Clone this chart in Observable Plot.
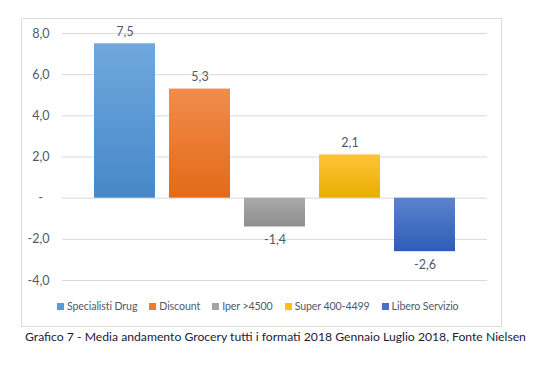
<!DOCTYPE html>
<html>
<head>
<meta charset="utf-8">
<script src="https://cdn.jsdelivr.net/npm/d3@7"></script>
<script src="https://cdn.jsdelivr.net/npm/@observablehq/plot@0.6"></script>
<style>
  body { margin: 0; background: #fff; width: 555px; height: 371px; position: relative; overflow: hidden; font-family: Lato, "Open Sans", sans-serif; }
  #frame { position: absolute; left: 21px; top: 18px; width: 481px; height: 309px; border: 1px solid #dcdcdc; box-sizing: border-box; }
  #chart { position: absolute; left: 0; top: 0; }
  #legend { position: absolute; left: 57px; top: 299px; height: 14px; display: flex; align-items: center; font-size: 10.6px; letter-spacing: -0.1px; color: #505a6a; white-space: nowrap; }
  #legend .item { display: inline-flex; align-items: center; margin-right: 12px; }
  #legend .sw { display: inline-block; width: 7px; height: 7px; margin-right: 3px; }
  #caption { position: absolute; left: 25px; top: 329px; font-size: 12.2px; color: #1b1b3a; white-space: nowrap; }
</style>
</head>
<body>
<div id="frame"></div>
<div id="chart"></div>
<div id="legend"></div>
<div id="caption">Grafico 7 - Media andamento Grocery tutti i formati 2018 Gennaio Luglio 2018, Fonte Nielsen</div>
<script>
const categories = ["Specialisti Drug", "Discount", "Iper >4500", "Super 400-4499", "Libero Servizio"];
const values = [7.5, 5.3, -1.4, 2.1, -2.6];
const valueLabels = ["7,5", "5,3", "-1,4", "2,1", "-2,6"];
const yTicks = [-4, -2, 0, 2, 4, 6, 8];
const yTickLabels = ["-4,0", "-2,0", "-\u00a0\u00a0", "2,0", "4,0", "6,0", "8,0"];
const swatchColors = ["#5b9bd5", "#ed7d31", "#a5a5a5", "#ffc000", "#4472c4"];
const gradTop = ["#70a8dd", "#f18c4c", "#a9a9a9", "#ffc437", "#5c83cd"];
const gradBottom = ["#4688c9", "#e36a17", "#8e8e8e", "#e8ae00", "#2e5cb7"];

const data = categories.map((c, i) => ({category: c, value: values[i], label: valueLabels[i]}));
const gradIds = categories.map((c, i) => `url(#grad${i})`);

const defsMark = () => {
  const g = d3.create("svg:g");
  const defs = g.append("defs");
  categories.forEach((c, i) => {
    const lg = defs.append("linearGradient").attr("id", `grad${i}`).attr("x1", 0).attr("y1", 0).attr("x2", 0).attr("y2", 1);
    lg.append("stop").attr("offset", "0%").attr("stop-color", gradTop[i]);
    lg.append("stop").attr("offset", "100%").attr("stop-color", gradBottom[i]);
  });
  return g.node();
};

const textColor = "#505a6a";

const chart = Plot.plot({
  width: 555,
  height: 296,
  marginTop: 33,
  marginBottom: 16,
  marginLeft: 62,
  marginRight: 68,
  style: {fontFamily: "Lato, sans-serif", fontSize: "12px", color: textColor, background: "transparent"},
  x: {domain: categories, axis: null, paddingInner: 0.192, paddingOuter: 0.41},
  y: {domain: [-4, 8], label: null},
  color: {type: "ordinal", domain: categories, range: gradIds},
  marks: [
    defsMark,
    Plot.gridY(yTicks, {stroke: "#d9d9d9", strokeOpacity: 1}),
    Plot.axisY(yTicks, {tickSize: 0, tickPadding: 13, tickFormat: d => yTickLabels[yTicks.indexOf(d)], fill: textColor, fontSize: 12.5, label: null}),
    Plot.barY(data, {x: "category", y: "value", fill: "category"}),
    Plot.text(data.filter(d => d.value >= 0), {x: "category", y: "value", text: "label", dy: -12, fill: textColor, fontSize: 12.5}),
    Plot.text(data.filter(d => d.value < 0), {x: "category", y: "value", text: "label", dy: 13, fill: textColor, fontSize: 12.5})
  ]
});
document.getElementById("chart").appendChild(chart);

const legendScale = Plot.scale({color: {type: "ordinal", domain: categories, range: swatchColors}});
const items = d3.select("#legend").selectAll(".item").data(legendScale.domain).join("span").attr("class", "item");
items.append("span").attr("class", "sw").style("background", d => legendScale.apply(d));
items.append("span").text(d => d);
</script>
</body>
</html>
